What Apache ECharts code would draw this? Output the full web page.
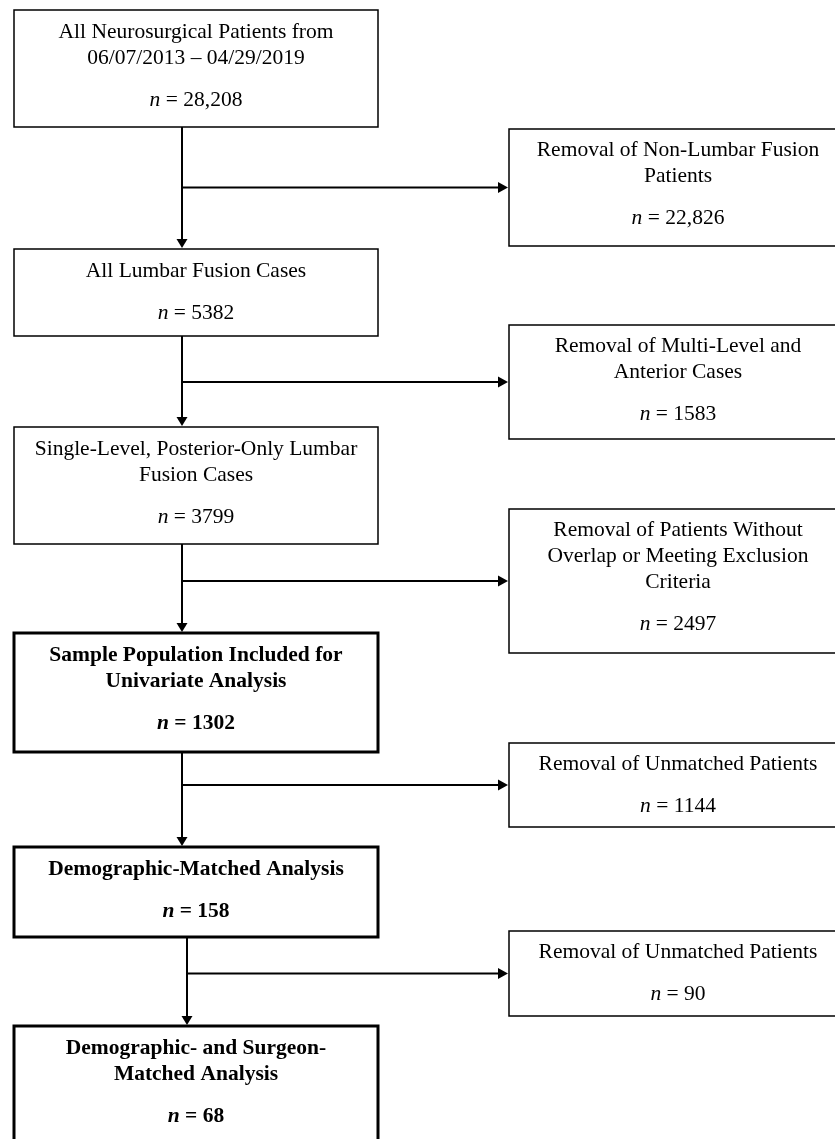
<!DOCTYPE html>
<html>
<head>
<meta charset="utf-8">
<script src="https://cdn.jsdelivr.net/npm/echarts@6/dist/echarts.min.js"></script>
<style>
html,body{margin:0;padding:0;background:#fff;}
#chart{width:835px;height:1139px;}
</style>
</head>
<body>
<div id="chart"></div>
<script>
// ---- Data (text content of the flow diagram) ----
const mainLabels = [
  "All Neurosurgical Patients from\n06/07/2013 – 04/29/2019",
  "All Lumbar Fusion Cases",
  "Single-Level, Posterior-Only Lumbar\nFusion Cases",
  "Sample Population Included for\nUnivariate Analysis",
  "Demographic-Matched Analysis",
  "Demographic- and Surgeon-\nMatched Analysis"
];
const mainCounts = ["28,208", "5382", "3799", "1302", "158", "68"];
const mainBold = [false, false, false, true, true, true];

const exclusionLabels = [
  "Removal of Non-Lumbar Fusion\nPatients",
  "Removal of Multi-Level and\nAnterior Cases",
  "Removal of Patients Without\nOverlap or Meeting Exclusion\nCriteria",
  "Removal of Unmatched Patients",
  "Removal of Unmatched Patients"
];
const exclusionCounts = ["22,826", "1583", "2497", "1144", "90"];

// ---- Layout (kept separate from data) ----
const mainLayout = {
  left: 14, right: 378,
  tops: [10, 249, 427, 633, 847, 1026],
  bottoms: [127, 336, 544, 752, 937, 1160],
  arrowX: [182, 182, 182, 182, 187]
};
const sideLayout = {
  left: 509, right: 847,
  tops: [129, 325, 509, 743, 931],
  bottoms: [246, 439, 653, 827, 1016]
};
const FONT = '"Liberation Serif", "Times New Roman", Times, serif';
const FS = 21.5, LINE = 26, NGAP = 42;

function textLines(cx, top, label, count, bold, firstOff, api) {
  const els = [];
  const lines = label.split('\n');
  let y = top + firstOff;
  lines.forEach((ln, k) => {
    const p = api.coord([cx, y + k * LINE]);
    els.push({
      type: 'text',
      style: {
        text: ln, x: p[0], y: p[1], fill: '#000',
        fontFamily: FONT, fontSize: FS, fontWeight: bold ? 'bold' : 'normal',
        align: 'center', verticalAlign: 'middle'
      }
    });
  });
  const ny = y + (lines.length - 1) * LINE + NGAP;
  const pn = api.coord([cx, ny]);
  els.push({
    type: 'text',
    style: {
      text: '{i|n} = ' + count, x: pn[0], y: pn[1], fill: '#000',
      fontFamily: FONT, fontSize: FS, fontWeight: bold ? 'bold' : 'normal',
      align: 'center', verticalAlign: 'middle',
      rich: {
        i: { fontFamily: FONT, fontSize: FS, fontStyle: 'italic', fontWeight: bold ? 'bold' : 'normal', fill: '#000' }
      }
    }
  });
  return els;
}

function boxEl(L, i, lw, api) {
  const a = api.coord([L.left, L.tops[i]]);
  const b = api.coord([L.right, L.bottoms[i]]);
  return {
    type: 'rect',
    shape: { x: a[0], y: a[1], width: b[0] - a[0], height: b[1] - a[1] },
    style: { fill: '#fff', stroke: '#000', lineWidth: lw }
  };
}

const chart = echarts.init(document.getElementById('chart'), null, { renderer: 'canvas' });
chart.setOption({
  backgroundColor: '#fff',
  animation: false,
  grid: { left: 0, right: 0, top: 0, bottom: 0 },
  xAxis: { type: 'value', min: 0, max: 835, show: false },
  yAxis: { type: 'value', min: 0, max: 1139, inverse: true, show: false },
  series: [
    {
      type: 'custom',
      name: 'arrows',
      clip: false,
      data: exclusionLabels.map((_, i) => i),
      renderItem: function (params, api) {
        const i = params.dataIndex;
        const x = mainLayout.arrowX[i];
        const y0 = mainLayout.bottoms[i];
        const y1 = mainLayout.tops[i + 1];
        const yc = (sideLayout.tops[i] + sideLayout.bottoms[i]) / 2;
        const xr = sideLayout.left;
        const P = (px, py) => api.coord([px, py]);
        const s = P(x, y0), e = P(x, y1 - 8);
        const h0 = P(x, yc), h1 = P(xr - 9, yc);
        return {
          type: 'group',
          children: [
            { type: 'line', shape: { x1: s[0], y1: s[1], x2: e[0], y2: e[1] }, style: { stroke: '#000', lineWidth: 2 } },
            { type: 'polygon', shape: { points: [P(x - 5.5, y1 - 10), P(x + 5.5, y1 - 10), P(x, y1 - 1)] }, style: { fill: '#000' } },
            { type: 'line', shape: { x1: h0[0], y1: h0[1], x2: h1[0], y2: h1[1] }, style: { stroke: '#000', lineWidth: 2 } },
            { type: 'polygon', shape: { points: [P(xr - 11, yc - 5.5), P(xr - 11, yc + 5.5), P(xr - 1, yc)] }, style: { fill: '#000' } }
          ]
        };
      }
    },
    {
      type: 'custom',
      name: 'main',
      clip: false,
      data: mainLabels.map((_, i) => i),
      renderItem: function (params, api) {
        const i = params.dataIndex;
        const bold = mainBold[i];
        const cx = (mainLayout.left + mainLayout.right) / 2;
        return {
          type: 'group',
          children: [boxEl(mainLayout, i, bold ? 3 : 1.5, api)]
            .concat(textLines(cx, mainLayout.tops[i], mainLabels[i], mainCounts[i], bold, 22, api))
        };
      }
    },
    {
      type: 'custom',
      name: 'exclusions',
      clip: false,
      data: exclusionLabels.map((_, i) => i),
      renderItem: function (params, api) {
        const i = params.dataIndex;
        const cx = (sideLayout.left + sideLayout.right) / 2;
        return {
          type: 'group',
          children: [boxEl(sideLayout, i, 1.5, api)]
            .concat(textLines(cx, sideLayout.tops[i], exclusionLabels[i], exclusionCounts[i], false, 21, api))
        };
      }
    }
  ]
});
</script>
</body>
</html>
